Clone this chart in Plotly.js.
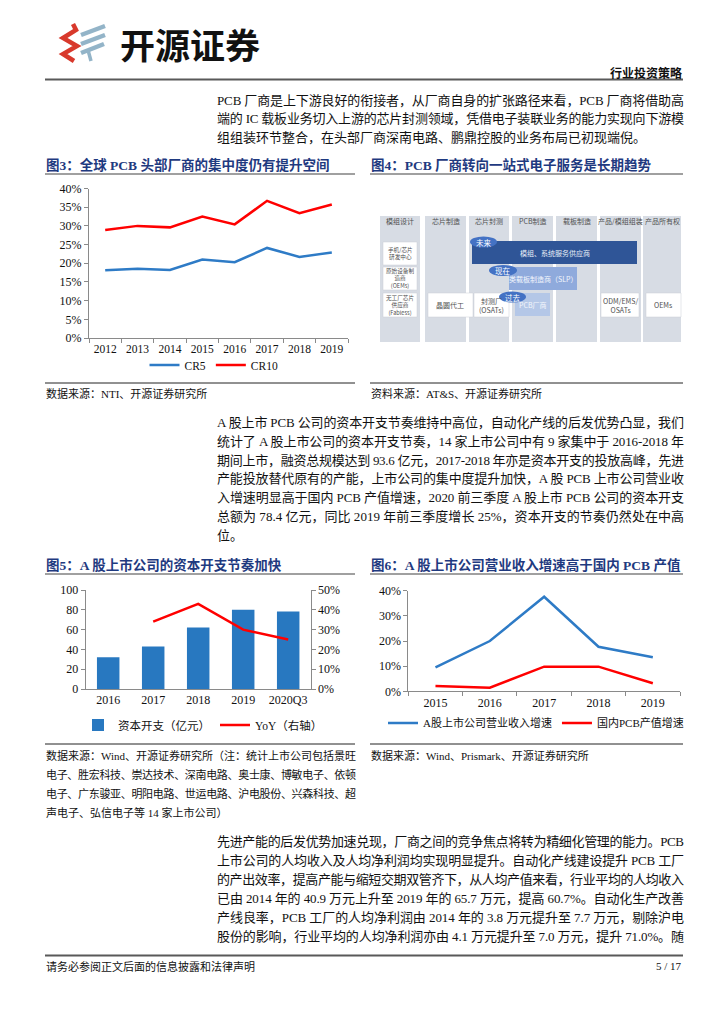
<!DOCTYPE html>
<html><head><meta charset="utf-8">
<script src="https://cdn.plot.ly/plotly-3.0.1.min.js"></script>
<style>html,body{margin:0;padding:0;background:#fff;}#chart{width:724px;height:1024px;}</style>
</head><body><div id="chart"></div>
<script>
// ---------- data ----------
const years3 = ['2012','2013','2014','2015','2016','2017','2018','2019'];
const cr5  = [18.1, 18.5, 18.2, 21.0, 20.3, 24.1, 21.7, 22.9];
const cr10 = [28.9, 30.0, 29.6, 32.5, 30.4, 36.7, 33.4, 35.7];

const cats5 = ['2016','2017','2018','2019','2020Q3'];
const capex = [32, 43, 62, 80, 78.4];
const capexYoY = [null, 34, 43, 30, 25];

const years6 = ['2015','2016','2017','2018','2019'];
const aShareRevGrowth = [9.5, 20.0, 37.6, 17.7, 13.5];
const domesticPcbGrowth = [2.1, 1.4, 9.8, 9.8, 3.2];

const para1 = [
 'PCB 厂商是上下游良好的衔接者，从厂商自身的扩张路径来看，PCB 厂商将借助高',
 '端的 IC 载板业务切入上游的芯片封测领域，凭借电子装联业务的能力实现向下游模',
 '组组装环节整合，在头部厂商深南电路、鹏鼎控股的业务布局已初现端倪。'];
const para2 = [
 'A 股上市 PCB 公司的资本开支节奏维持中高位，自动化产线的后发优势凸显，我们',
 '统计了 A 股上市公司的资本开支节奏，14 家上市公司中有 9 家集中于 2016-2018 年',
 '期间上市，融资总规模达到 93.6 亿元，2017-2018 年亦是资本开支的投放高峰，先进',
 '产能投放替代原有的产能，上市公司的集中度提升加快，A 股 PCB 上市公司营业收',
 '入增速明显高于国内 PCB 产值增速，2020 前三季度 A 股上市 PCB 公司的资本开支',
 '总额为 78.4 亿元，同比 2019 年前三季度增长 25%，资本开支的节奏仍然处在中高',
 '位。'];
const para3 = [
 '先进产能的后发优势加速兑现，厂商之间的竞争焦点将转为精细化管理的能力。PCB',
 '上市公司的人均收入及人均净利润均实现明显提升。自动化产线建设提升 PCB 工厂',
 '的产出效率，提高产能与缩短交期双管齐下，从人均产值来看，行业平均的人均收入',
 '已由 2014 年的 40.9 万元上升至 2019 年的 65.7 万元，提高 60.7%。自动化生产改善',
 '产线良率，PCB 工厂的人均净利润由 2014 年的 3.8 万元提升至 7.7 万元，剔除沪电',
 '股份的影响，行业平均的人均净利润亦由 4.1 万元提升至 7.0 万元，提升 71.0%。随'];
const src5 = [
 '数据来源：Wind、开源证券研究所（注：统计上市公司包括景旺',
 '电子、胜宏科技、崇达技术、深南电路、奥士康、博敏电子、依顿',
 '电子、广东骏亚、明阳电路、世运电路、沪电股份、兴森科技、超',
 '声电子、弘信电子等 14 家上市公司）'];
const diagramCols = ['模组设计','芯片制造','芯片封测','PCB制造','载板制造','产品/模组组装','产品所有权'];

// ---------- helpers ----------
const W = 724, H = 1024;
const X = p => p / W, Y = p => 1 - p / H;
const SERIF = 'Liberation Serif, Noto Sans CJK SC, serif';
const SANS = 'Noto Sans CJK SC, Liberation Sans, sans-serif';
const ann = [], shapes = [], justify = [];
function txt(x, y, t, o) {
  o = o || {};
  ann.push({xref:'paper', yref:'paper', x:X(x), y:Y(y), text:t, showarrow:false,
    xanchor:o.xa || 'left', yanchor:'middle', align:o.al || 'left', borderpad:0,
    font:{family:o.fam || SERIF, size:o.size || 13, color:o.color || '#111', weight:o.weight || 400}});
  if (o.just) justify.push({i: ann.length - 1, w: o.just});
}
function line(x0, y0, x1, y1, c, w) {
  shapes.push({type:'line', xref:'paper', yref:'paper', x0:X(x0), y0:Y(y0), x1:X(x1), y1:Y(y1), line:{color:c, width:w}});
}
function rect(x0, y0, x1, y1, fill, lc, lw) {
  shapes.push({type:'rect', xref:'paper', yref:'paper', x0:X(x0), y0:Y(y0), x1:X(x1), y1:Y(y1), fillcolor:fill, line:{color:lc || fill, width:lw || 0}, layer:'above'});
}
function ellipse(x0, y0, x1, y1, fill) {
  shapes.push({type:'circle', xref:'paper', yref:'paper', x0:X(x0), y0:Y(y0), x1:X(x1), y1:Y(y1), fillcolor:fill, line:{width:0}});
}
function poly(pts, color, width, close) {
  const d = 'M' + pts.map(p => X(p[0]).toFixed(5) + ',' + Y(p[1]).toFixed(5)).join('L') + (close ? 'Z' : '');
  shapes.push({type:'path', xref:'paper', yref:'paper', path:d,
    fillcolor: close ? color : 'rgba(0,0,0,0)', line:{color:color, width: close ? 0 : width}});
}

// ---------- header ----------
poly([[73,24],[76,30],[63,38],[77,46],[63,54],[74,61]], '#d8392c', 4.5, false);
poly([[81,35],[105,26]], '#93b4c8', 4.5, false);
poly([[81,44],[105,35]], '#93b4c8', 4.5, false);
poly([[81,53],[104,44]], '#93b4c8', 4.5, false);
poly([[88,50],[91,61]], '#93b4c8', 3.5, false);
txt(119, 43, '开源证券', {fam:SANS, size:35, weight:700, color:'#111'});
txt(683, 72, '行业投资策略', {fam:SANS, size:12, weight:700, xa:'right', al:'right', color:'#111'});
line(45, 79.5, 683, 79.5, '#595959', 2);

// ---------- paragraphs ----------
para1.forEach((t, i) => txt(216, 100 + i * 18.9, t, {just: i < para1.length - 1 ? 467 : 0}));
para2.forEach((t, i) => txt(216, 422.5 + i * 18.8, t, {just: i < para2.length - 1 ? 467 : 0}));
para3.forEach((t, i) => txt(216, 841.7 + i * 18.9, t, {just: 467}));

// ---------- figure frames ----------
const TITLE = {fam:SERIF, size:13.5, weight:700, color:'#1f3a80'};
function frame(x0, x1, ty, uly, bly, title) {
  txt(x0, ty, title, TITLE);
  line(x0, uly, x1, uly, '#808080', 1.5);
  line(x0, bly, x1, bly, '#222', 1);
}
frame(45, 355, 165, 174, 383, '图3：全球 PCB 头部厂商的集中度仍有提升空间');
frame(370, 683, 165, 174, 383, '图4：PCB 厂商转向一站式电子服务是长期趋势');
frame(45, 355, 564.5, 574, 744, '图5：A 股上市公司的资本开支节奏加快');
frame(370, 683, 564.5, 574, 744, '图6：A 股上市公司营业收入增速高于国内 PCB 产值');
txt(45, 393, '数据来源：NTI、开源证券研究所', {size:11});
txt(370, 393, '资料来源：AT&amp;S、开源证券研究所', {size:11});
src5.forEach((t, i) => txt(45, 755 + i * 19, t, {size:11, just: i < src5.length - 1 ? 310 : 0}));
txt(370, 755, '数据来源：Wind、Prismark、开源证券研究所', {size:11});

// ---------- figure 4 diagram ----------
const colX = [[380,420],[425,466],[469,509],[512,553],[556,597],[600,641],[643,681]];
const DG = {fam:SANS, size:7, color:'#505050', xa:'center', al:'center'};
const DGS = {fam:SANS, size:5.6, color:'#505050', xa:'center', al:'center'};
colX.forEach((c, i) => {
  rect(c[0], 216, c[1], 342, '#d7dce4');
  txt((c[0] + c[1]) / 2, 221, diagramCols[i], DG);
});
rect(383, 242, 417, 265, '#ffffff', '#c8ccd4', 0.5);
rect(383, 267, 417, 290, '#ffffff', '#c8ccd4', 0.5);
rect(383, 293, 417, 317, '#ffffff', '#c8ccd4', 0.5);
txt(400, 253.5, '手机/芯片<br>研发中心', DGS);
txt(400, 278.5, '原始设备制<br>造商<br>(OEMs)', DGS);
txt(400, 305, '无工厂芯片<br>供应商<br>(Fabless)', DGS);
rect(428, 293, 473, 317, '#ffffff', '#c8ccd4', 0.5);
txt(450.5, 305, '晶圆代工', DG);
rect(474, 293, 509, 317, '#ffffff', '#c8ccd4', 0.5);
txt(491.5, 305, '封测厂<br>(OSATs)', DG);
rect(601, 293, 639, 317, '#ffffff', '#c8ccd4', 0.5);
txt(620, 305, 'ODM/EMS/<br>OSATs', DG);
rect(646, 293, 681, 317, '#ffffff', '#c8ccd4', 0.5);
txt(663.5, 305, 'OEMs', DG);
rect(472, 241, 637, 264, '#2f5597');
txt(554.5, 252.5, '模组、系统服务供应商', {fam:SANS, size:7, color:'#e8eef8', xa:'center', al:'center'});
rect(509, 267, 577, 290, '#8faadc');
txt(543, 278.5, '类载板制造商（SLP）', {fam:SANS, size:7, color:'#f4f7fc', xa:'center', al:'center'});
rect(515, 293, 550, 316, '#b4c7e7');
txt(532.5, 304.5, 'PCB厂商', {fam:SANS, size:7, color:'#f4f7fc', xa:'center', al:'center'});
ellipse(470, 236.5, 497, 247.5, '#4472c4');
txt(483.5, 242, '未来', {fam:SANS, size:7.5, color:'#fff', xa:'center', al:'center'});
ellipse(489, 265, 517, 276, '#4472c4');
txt(503, 270.5, '现在', {fam:SANS, size:7.5, color:'#fff', xa:'center', al:'center'});
ellipse(499, 291.5, 526, 302.5, '#4472c4');
txt(512.5, 297, '过去', {fam:SANS, size:7.5, color:'#fff', xa:'center', al:'center'});

// ---------- footer ----------
line(45, 955.5, 683, 955.5, '#595959', 2);
txt(45, 966, '请务必参阅正文后面的信息披露和法律声明', {size:11});
txt(683, 966, '5 / 17', {size:11, xa:'right', al:'right'});

// ---------- traces ----------
const BLUE = '#2e7bc6', RED = '#ff0000';
const traces = [
  {type:'scatter', mode:'lines', x:years3, y:cr5, xaxis:'x', yaxis:'y', name:'CR5', legend:'legend', line:{color:BLUE, width:2.5}},
  {type:'scatter', mode:'lines', x:years3, y:cr10, xaxis:'x', yaxis:'y', name:'CR10', legend:'legend', line:{color:RED, width:2.5}},
  {type:'bar', x:cats5, y:capex, xaxis:'x2', yaxis:'y2', name:'资本开支（亿元）', legend:'legend2', width:0.5, marker:{color:'#2878c0'}},
  {type:'scatter', mode:'lines', x:cats5, y:capexYoY, xaxis:'x2', yaxis:'y3', name:'YoY（右轴）', legend:'legend2', line:{color:RED, width:2.5}},
  {type:'scatter', mode:'lines', x:years6, y:aShareRevGrowth, xaxis:'x3', yaxis:'y4', name:'A股上市公司营业收入增速', legend:'legend3', line:{color:BLUE, width:2.5}},
  {type:'scatter', mode:'lines', x:years6, y:domesticPcbGrowth, xaxis:'x3', yaxis:'y4', name:'国内PCB产值增速', legend:'legend3', line:{color:RED, width:2.5}}
];

const AX = {showgrid:false, zeroline:false, showline:true, linecolor:'#8a8a8a', linewidth:1, tickangle:0,
  ticks:'outside', ticklen:4, tickcolor:'#8a8a8a', tickfont:{family:SERIF, size:12, color:'#111'}, fixedrange:true};
const LEG = {orientation:'h', xanchor:'center', yanchor:'middle', bgcolor:'rgba(0,0,0,0)', itemwidth:30,
  font:{family:SERIF, size:11.5, color:'#111'}};

const layout = {
  width:W, height:H, margin:{l:0, r:0, t:0, b:0}, paper_bgcolor:'#fff', plot_bgcolor:'rgba(0,0,0,0)',
  showlegend:true, hovermode:false, bargap:0.5,
  xaxis: Object.assign({}, AX, {domain:[X(89), X(348)], anchor:'y', type:'category', range:[-0.5, 7.5], tickson:'boundaries', tickfont:{family:SERIF, size:11.5, color:'#111'}}),
  yaxis: Object.assign({}, AX, {domain:[Y(338), Y(188.5)], anchor:'x', range:[0, 40], dtick:5, ticksuffix:'%'}),
  xaxis2: Object.assign({}, AX, {domain:[X(85.7), X(310.7)], anchor:'y2', type:'category', range:[-0.5, 4.5], ticks:''}),
  yaxis2: Object.assign({}, AX, {domain:[Y(689), Y(590)], anchor:'x2', range:[0, 100], dtick:20}),
  yaxis3: Object.assign({}, AX, {overlaying:'y2', side:'right', anchor:'x2', range:[0, 50], dtick:10, ticksuffix:'%'}),
  xaxis3: Object.assign({}, AX, {domain:[X(408.3), X(680)], anchor:'y4', type:'category', range:[-0.5, 4.5], tickson:'boundaries'}),
  yaxis4: Object.assign({}, AX, {domain:[Y(691.3), Y(590.7)], anchor:'x3', range:[0, 40], dtick:10, ticksuffix:'%'}),
  legend: Object.assign({}, LEG, {x:X(214), y:Y(365)}),
  legend2: Object.assign({}, LEG, {x:X(203), y:Y(725)}),
  legend3: Object.assign({}, LEG, {x:X(536), y:Y(723), font:{family:SERIF, size:11, color:'#111'}}),
  shapes: shapes,
  annotations: ann
};

Plotly.newPlot('chart', traces, layout, {staticPlot:true, displayModeBar:false}).then(gd => {
  justify.forEach(j => {
    if (!j.w) return;
    const t = gd.querySelector('.annotation[data-index="' + j.i + '"] text.annotation-text');
    if (t) { t.setAttribute('textLength', j.w); t.setAttribute('lengthAdjust', 'spacing'); }
  });
});
</script>
</body></html>
